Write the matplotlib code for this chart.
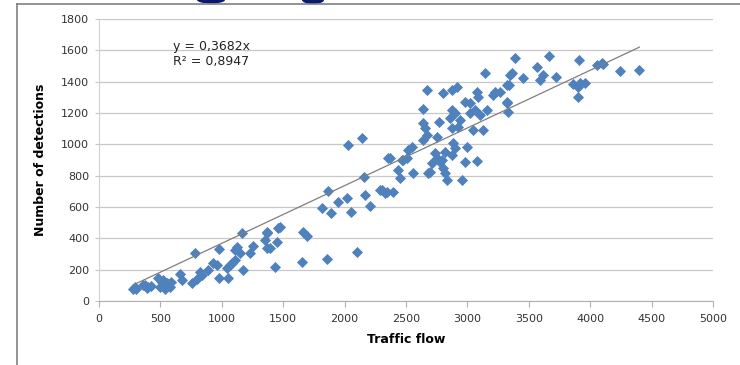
import numpy as np
import matplotlib.pyplot as plt
from matplotlib.patches import Ellipse
from matplotlib.lines import Line2D

# traffic flow vs number of detections
flow = [280, 293, 300, 360, 375, 388, 400, 420, 483, 497, 510, 524, 537, 551, 560, 578, 590,
        660, 673, 755, 782, 800, 822, 836, 890, 931, 960, 980, 980, 1040, 1053, 1067, 1080,
        1107, 1107, 1121, 1148, 1167, 1170, 1230, 1257, 1352, 1366, 1366, 1371, 1393, 1433,
        1447, 1460, 1474, 1650, 1664, 1691, 1813, 1854, 1868, 1887, 1949, 2022, 2030, 2049,
        2098, 2139, 2158, 2166, 2207, 2288, 2302, 2329, 2343, 2356, 2370, 2397, 2437, 2451,
        2465, 2478, 2505, 2519, 2546, 2560, 2641, 2641, 2641, 2655, 2668, 2668, 2682, 2695,
        2709, 2736, 2750, 2750, 2772, 2777, 2790, 2804, 2804, 2818, 2818, 2831, 2858, 2872,
        2872, 2872, 2872, 2885, 2899, 2899, 2913, 2926, 2940, 2953, 2980, 2980, 2994, 3021,
        3021, 3048, 3062, 3076, 3081, 3089, 3103, 3124, 3143, 3157, 3211, 3225, 3265, 3320,
        3320, 3320, 3333, 3339, 3347, 3360, 3385, 3450, 3569, 3591, 3618, 3667, 3722, 3862,
        3903, 3903, 3909, 3917, 3958, 4053, 4093, 4104, 4243, 4400]
detections = [75, 87, 75, 100, 102, 81, 90, 95, 145, 87, 120, 134, 75, 113, 110, 87, 120,
              172, 134, 113, 308, 140, 187, 166, 198, 240, 230, 330, 145, 209, 145, 230, 240,
              262, 326, 347, 304, 432, 198, 304, 351, 389, 432, 336, 442, 336, 219,
              378, 464, 474, 251, 442, 415, 592, 266, 702, 560, 634, 655, 995, 570,
              315, 1038, 789, 676, 606, 708, 708, 687, 698, 911, 911, 698, 836, 783,
              900, 900, 911, 964, 985, 819, 1223, 1134, 1027, 1102, 1347, 1059, 815, 825,
              879, 942, 1049, 911, 1144, 889, 900, 1325, 847, 953, 815, 772, 1166, 1347,
              1219, 1102, 932, 1006, 1198, 974, 1368, 1112, 1155, 772, 1272, 889, 981, 1262,
              1198, 1091, 1219, 1336, 895, 1304, 1187, 1091, 1453, 1219, 1315, 1336, 1336, 1378,
              1262, 1272, 1208, 1378, 1442, 1457, 1553, 1421, 1491, 1410, 1442, 1563, 1431, 1385,
              1368, 1304, 1538, 1393, 1393, 1506, 1521, 1512, 1470, 1474]
slope = 0.3682
r2 = 0.8947

fig = plt.figure(figsize=(7.4, 3.65), dpi=100)
ax = fig.add_axes([99 / 740, 64 / 365, 614 / 740, 282 / 365])

# outer frame of the chart area (partly cropped in the original)
fig.add_artist(Line2D([17 / 740, 17 / 740], [0, 1 - 4 / 365], color="#808080", lw=1.2))
fig.add_artist(Line2D([17 / 740, 1], [1 - 4 / 365, 1 - 4 / 365], color="#808080", lw=1.2))
# bits of a logo peeking in at the top
fig.add_artist(Ellipse((211 / 740, 1.0), 28 / 740, 7 / 365, facecolor="#0a1a6e", lw=0))
fig.add_artist(Ellipse((313 / 740, 1.0), 22 / 740, 8 / 365, facecolor="#0a1a6e", lw=0))

ax.scatter(flow, detections, marker="D", s=32, color="#4F81BD", linewidths=0, zorder=3)

xl = np.array([min(flow), max(flow)])
ax.plot(xl, slope * xl, color="#7f7f7f", lw=0.9, zorder=4)

ax.text(0.12, 0.925, f"y = {slope:.4f}x\nR² = {r2:.4f}".replace(".", ","),
        transform=ax.transAxes, fontsize=9, color="#222222", va="top", ha="left",
        linespacing=1.2)

ax.set_xlim(0, 5000)
ax.set_ylim(0, 1800)
ax.set_xticks(np.arange(0, 5001, 500))
ax.set_yticks(np.arange(0, 1801, 200))
ax.grid(axis="y", color="#c8c8c8", lw=0.9)
ax.set_axisbelow(True)
for s in ["top", "right"]:
    ax.spines[s].set_visible(False)
ax.spines["left"].set_color("#d0d0d0")
ax.spines["bottom"].set_color("#b0b0b0")
ax.tick_params(axis="x", length=4, color="#b0b0b0", labelsize=8, labelcolor="#333333", pad=5)
ax.tick_params(axis="y", length=3, color="#c8c8c8", labelsize=8, labelcolor="#333333", pad=4)

ax.set_xlabel("Traffic flow", fontsize=9, fontweight="bold", labelpad=7)
ax.set_ylabel("Number of detections", fontsize=9, fontweight="bold", labelpad=10)

fig.savefig("out.png", dpi=100)
